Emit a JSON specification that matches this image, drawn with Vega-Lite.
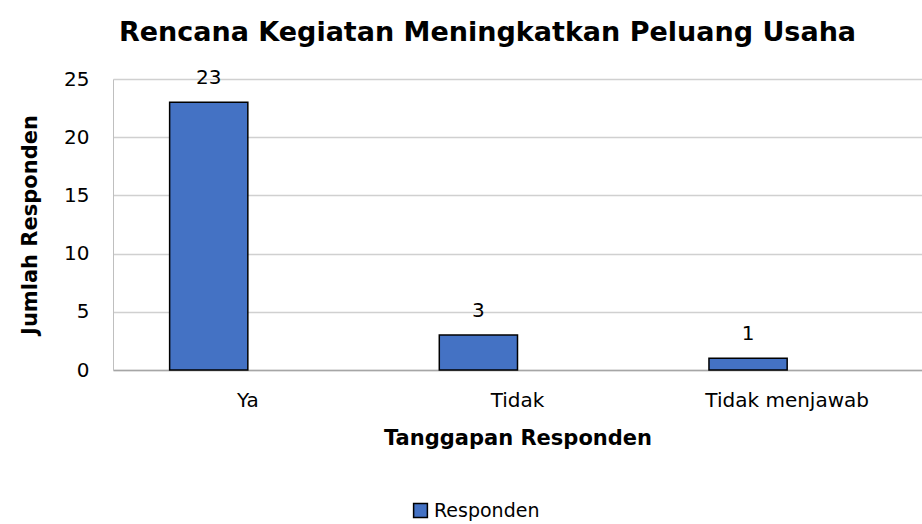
{
  "$schema": "https://vega.github.io/schema/vega-lite/v6.json",
  "autosize": "none",
  "width": 809,
  "height": 291,
  "padding": {"left": 113, "top": 79, "right": 0, "bottom": 154},
  "background": "white",
  "config": {
    "font": "DejaVu Sans",
    "view": {"stroke": null}
  },
  "title": {
    "text": "Rencana Kegiatan Meningkatkan Peluang Usaha",
    "fontSize": 27,
    "fontWeight": "bold",
    "color": "#000000",
    "anchor": "middle",
    "dx": -30,
    "offset": 21
  },
  "data": {
    "values": [
      {"tanggapan": "Ya", "seri": "Responden", "jumlah": 23},
      {"tanggapan": "Tidak", "seri": "Responden", "jumlah": 3},
      {"tanggapan": "Tidak menjawab", "seri": "Responden", "jumlah": 1}
    ]
  },
  "encoding": {
    "x": {
      "field": "tanggapan",
      "type": "nominal",
      "sort": ["Ya", "Tidak", "Tidak menjawab"],
      "scale": {"paddingInner": 0.42, "paddingOuter": 0.21},
      "axis": {
        "title": "Tanggapan Responden",
        "titleFontSize": 21,
        "titleFontWeight": "bold",
        "titleColor": "#000000",
        "titlePadding": 17,
        "labelAngle": 0,
        "labelFontSize": 20,
        "labelColor": "#000000",
        "labelPadding": 20,
        "ticks": false,
        "domainColor": "#a6a6a6",
        "domainWidth": 1.5
      }
    },
    "xOffset": {
      "field": "seri",
      "type": "nominal",
      "scale": {"domain": ["Responden", "_kosong"], "paddingInner": 0, "paddingOuter": 0}
    },
    "y": {
      "field": "jumlah",
      "type": "quantitative",
      "scale": {"domain": [0, 25], "nice": false},
      "axis": {
        "title": "Jumlah Responden",
        "titleFontSize": 21,
        "titleFontWeight": "bold",
        "titleColor": "#000000",
        "titlePadding": 23,
        "values": [0, 5, 10, 15, 20, 25],
        "labelFontSize": 20,
        "labelColor": "#000000",
        "labelPadding": 24,
        "ticks": false,
        "domainColor": "#bfbfbf",
        "gridColor": "#d0d0d0",
        "gridWidth": 1.5
      }
    }
  },
  "layer": [
    {
      "mark": {"type": "bar", "stroke": "#000000", "strokeWidth": 1.5},
      "encoding": {
        "color": {
          "field": "seri",
          "type": "nominal",
          "scale": {"domain": ["Responden"], "range": ["#4472C4"]},
          "legend": {
            "title": null,
            "orient": "none",
            "legendX": 298,
            "legendY": 422,
            "symbolType": "square",
            "symbolSize": 190,
            "symbolStrokeColor": "#000000",
            "symbolStrokeWidth": 1.5,
            "labelFontSize": 19,
            "labelColor": "#000000"
          }
        }
      }
    },
    {
      "mark": {"type": "text", "baseline": "alphabetic", "dy": -18, "fontSize": 20, "color": "#000000"},
      "encoding": {
        "text": {"field": "jumlah", "type": "quantitative"}
      }
    }
  ]
}
